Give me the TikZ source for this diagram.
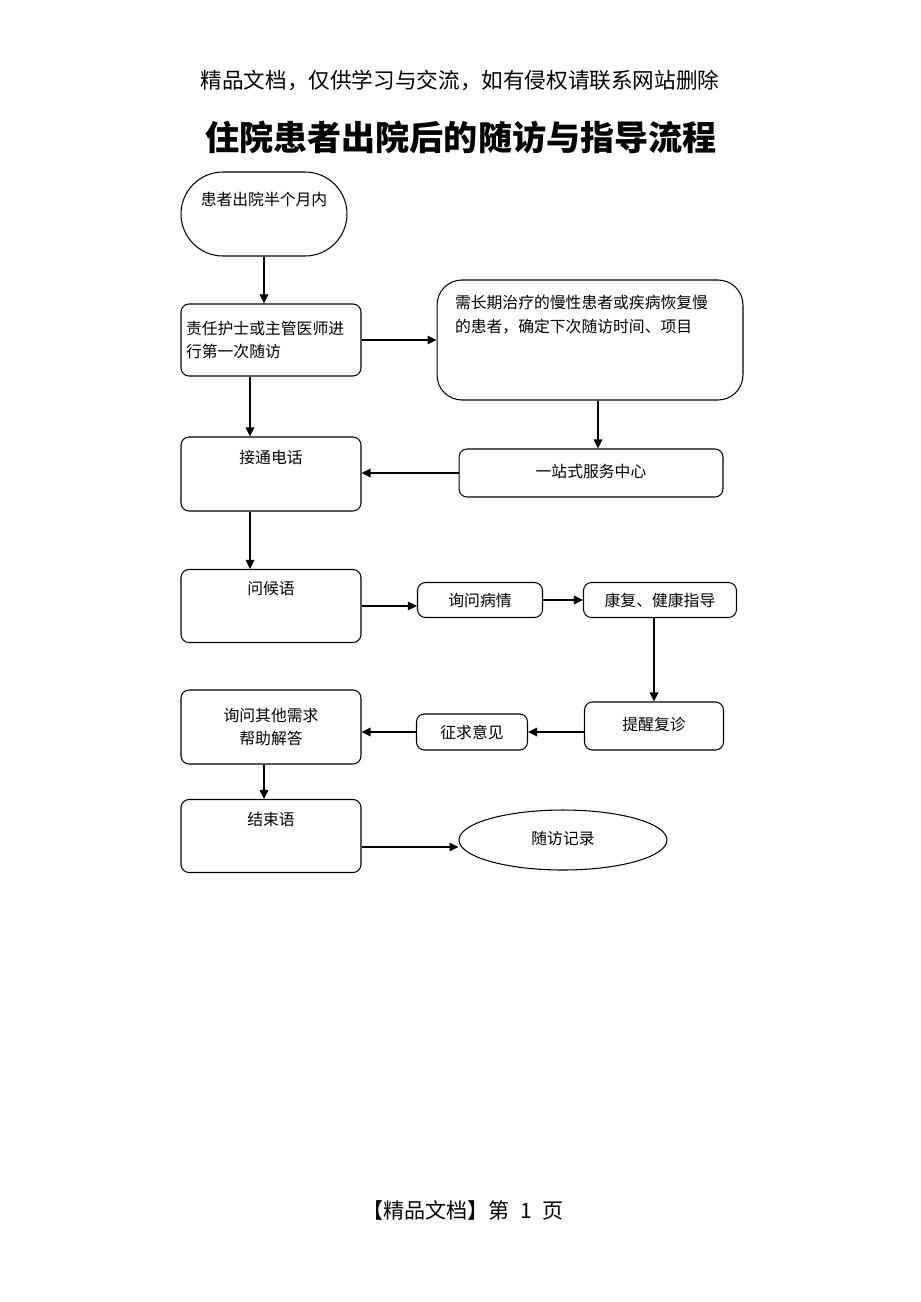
\documentclass[tikz,border=0pt]{standalone}
\usepackage{fontspec}
\setmainfont{Noto Sans CJK SC}
\usepackage{tikz}
\usetikzlibrary{arrows.meta,shapes.geometric,positioning}
\newcommand{\boxfont}{\fontsize{9pt}{13.6pt}\selectfont}

\begin{document}
\begin{tikzpicture}[x=0.02cm, y=-0.02cm,
    every node/.style={font=\boxfont},
    box/.style={draw, line width=0.6pt, rounded corners=0.16cm, inner sep=0pt},
    flow/.style={-{Triangle[length=0.18cm, width=0.17cm]}, line width=0.6pt}]
    % Page
    \path[fill=white] (0,0) rectangle (920,1302);
    \node (head) at (460,80) {\fontsize{12.3pt}{14pt}\selectfont 精品文档，仅供学习与交流，如有侵权请联系网站删除};
    \node (title) at (461,137) {\fontsize{19.4pt}{24pt}\selectfont\bfseries 住院患者出院后的随访与指导流程};
    \node (foot) at (463,1210) {\fontsize{12pt}{14pt}\selectfont 【精品文档】第\enspace{}1\enspace{}页};
    % Boxes
    \node[box, rounded corners=0.84cm, minimum width=3.32cm, minimum height=1.68cm,
          label={[anchor=center, yshift=-0.56cm]north:患者出院半个月内}] (start) at (264,214) {};
    \node[box, minimum width=3.6cm, minimum height=1.44cm, text width=3.4cm, align=left] (nurse) at (271,340)
        {责任护士或主管医师进\\行第一次随访};
    \node[box, rounded corners=0.5cm, minimum width=6.12cm, minimum height=2.4cm,
          label={[anchor=center, yshift=-0.71cm, text width=5.4cm, align=left]north:需长期治疗的慢性患者或疾病恢复慢\\的患者，确定下次随访时间、项目}] (chronic) at (590,340) {};
    \node[box, minimum width=3.6cm, minimum height=1.48cm,
          label={[anchor=center, yshift=-0.42cm]north:接通电话}] (phone) at (271,474) {};
    \node[box, minimum width=5.28cm, minimum height=0.96cm] (center) at (591,473) {\raisebox{0.08cm}{一站式服务中心}};
    \node[box, minimum width=3.6cm, minimum height=1.46cm,
          label={[anchor=center, yshift=-0.40cm]north:问候语}] (greet) at (271,606) {};
    \node[box, minimum width=2.5cm, minimum height=0.7cm] (ask) at (480,600) {询问病情};
    \node[box, minimum width=3.06cm, minimum height=0.7cm] (rehab) at (660,600) {康复、健康指导};
    \node[box, minimum width=2.78cm, minimum height=0.96cm] (remind) at (654,726) {\raisebox{0.08cm}{提醒复诊}};
    \node[box, minimum width=2.22cm, minimum height=0.72cm] (opinion) at (472,732) {征求意见};
    \node[box, minimum width=3.6cm, minimum height=1.48cm, align=center] (other) at (271,727)
        {询问其他需求\\帮助解答};
    \node[box, minimum width=3.6cm, minimum height=1.46cm,
          label={[anchor=center, yshift=-0.40cm]north:结束语}] (end) at (271,836) {};
    \node[draw, ellipse, line width=0.6pt, minimum width=4.16cm, minimum height=1.2cm] (record) at (563,840) {\raisebox{0.08cm}{随访记录}};
    % Arrows
    \draw[flow] (start.south) -- (start.south |- nurse.north);
    \draw[flow] (nurse.east) -- (chronic.west);
    \draw[flow] ([xshift=-0.42cm]nurse.south) -- ([xshift=-0.42cm]nurse.south |- phone.north);
    \draw[flow] ([xshift=0.16cm]chronic.south) -- ([xshift=0.16cm]chronic.south |- center.north);
    \draw[flow] (center.west) -- (center.west -| phone.east);
    \draw[flow] ([xshift=-0.42cm]phone.south) -- ([xshift=-0.42cm]phone.south |- greet.north);
    \draw[flow] (greet.east) -- (greet.east -| ask.west);
    \draw[flow] (ask.east) -- (rehab.west);
    \draw[flow] (rehab.south -| remind.north) -- (remind.north);
    \draw[flow] (opinion.east -| remind.west) -- (opinion.east);
    \draw[flow] (opinion.west) -- (opinion.west -| other.east);
    \draw[flow] ([xshift=-0.14cm]other.south) -- ([xshift=-0.14cm]other.south |- end.north);
    \draw[flow] ([yshift=-0.22cm]end.east) -- ([yshift=-0.22cm]end.east -| record.west);
\end{tikzpicture}
\end{document}
